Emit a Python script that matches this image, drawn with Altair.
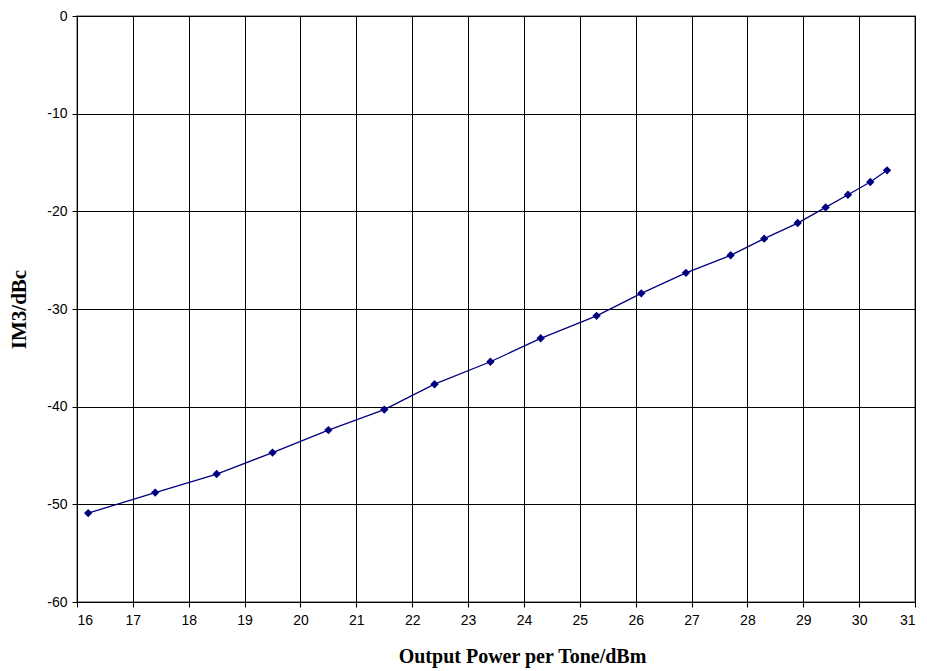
import altair as alt
import pandas as pd

power = [16.2, 17.4, 18.5, 19.5, 20.5, 21.5, 22.4, 23.4, 24.3, 25.3, 26.1,
         26.9, 27.7, 28.3, 28.9, 29.4, 29.8, 30.2, 30.5]
im3 = [-50.9, -48.8, -46.9, -44.7, -42.4, -40.3, -37.7, -35.4, -33.0, -30.7, -28.4,
       -26.3, -24.5, -22.8, -21.2, -19.6, -18.3, -17.0, -15.8]
x_ticks = list(range(16, 32))
y_ticks = list(range(-60, 1, 10))

df = pd.DataFrame({"x": power, "y": im3})

x = alt.X("x:Q", title="Output Power per Tone/dBm",
          scale=alt.Scale(domain=[16, 31], nice=False, zero=False),
          axis=alt.Axis(values=x_ticks, grid=True, labelOverlap=False,
                        gridColor="#000000", gridOpacity=1, gridWidth=1,
                        domainColor="#000000", tickColor="#000000", tickSize=5,
                        labelFont="Liberation Sans", labelFontSize=14, labelColor="#000000",
                        labelPadding=6, labelExpr="toString(datum.value)",
                        titleFont="Liberation Serif", titleFontSize=20, titleFontWeight="bold",
                        titleColor="#000000", titlePadding=19, titleX=445))
y = alt.Y("y:Q", title="IM3/dBc",
          scale=alt.Scale(domain=[-60, 0], nice=False),
          axis=alt.Axis(values=y_ticks, grid=True, labelOverlap=False,
                        gridColor="#000000", gridOpacity=1, gridWidth=1,
                        domainColor="#000000", tickColor="#000000", tickSize=5,
                        labelFont="Liberation Sans", labelFontSize=14, labelColor="#000000",
                        labelPadding=5, labelExpr="toString(datum.value)",
                        titleFont="Liberation Serif", titleFontSize=21, titleFontWeight="bold",
                        titleColor="#000000", titlePadding=17))

line = alt.Chart(df).mark_line(color="#000080", strokeWidth=1.3).encode(x=x, y=y)
pts = alt.Chart(df).mark_point(shape="diamond", filled=True, color="#000080",
                               size=70, opacity=1).encode(x=x, y=y)

chart = (line + pts).properties(
    width=838, height=586,
    autosize=alt.AutoSizeParams(type="none"),
    padding={"left": 69, "top": 8, "right": 4, "bottom": 76},
    background="white",
).configure_view(stroke="#808080", strokeWidth=1.5)

chart.save("out.html", embed_options={"renderer": "svg", "actions": False})
